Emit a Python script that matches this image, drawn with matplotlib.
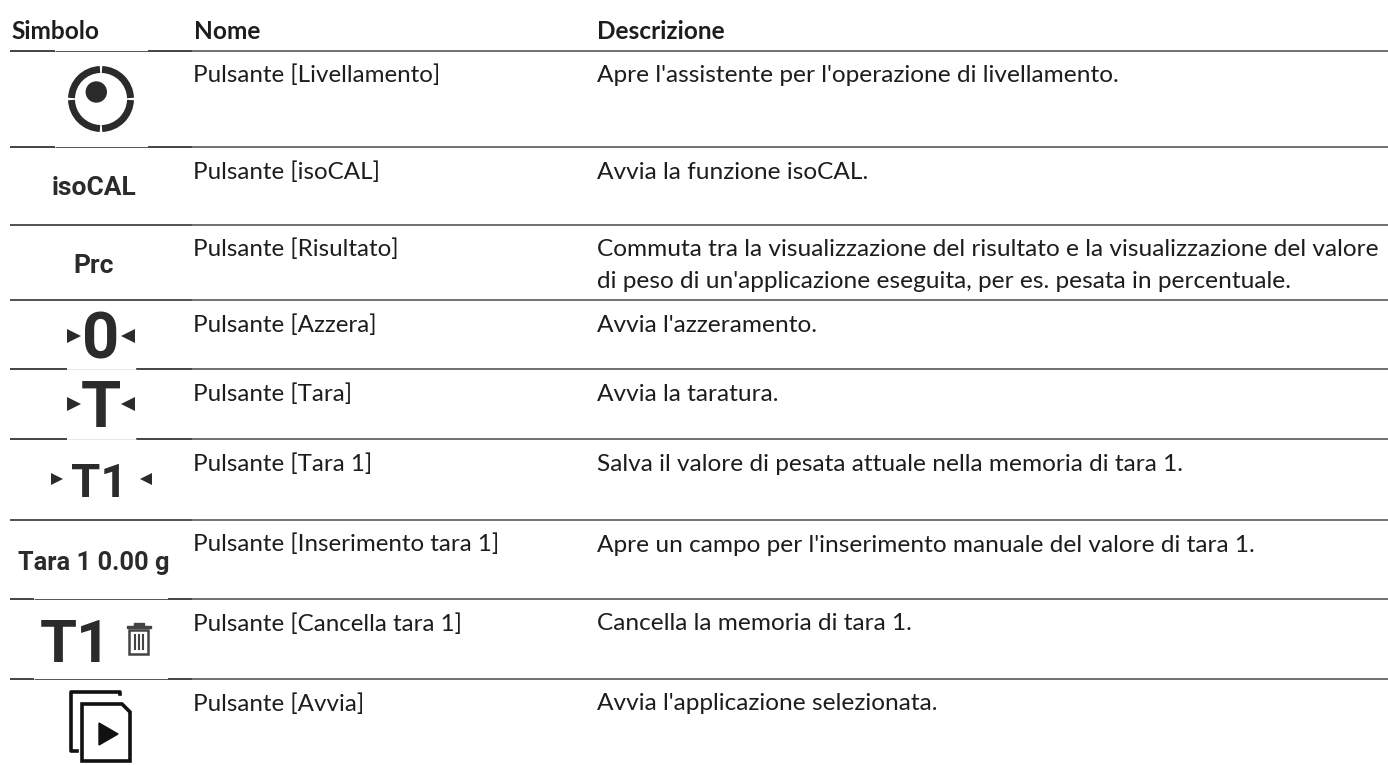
import matplotlib
matplotlib.use("Agg")
import matplotlib.pyplot as plt
from matplotlib.patches import Arc, Circle, Rectangle, Polygon

# table content
headers = ["Simbolo", "Nome", "Descrizione"]
names = ["Pulsante [Livellamento]", "Pulsante [isoCAL]", "Pulsante [Risultato]",
         "Pulsante [Azzera]", "Pulsante [Tara]", "Pulsante [Tara 1]",
         "Pulsante [Inserimento tara 1]", "Pulsante [Cancella tara 1]", "Pulsante [Avvia]"]
descriptions = ["Apre l'assistente per l'operazione di livellamento.",
                "Avvia la funzione isoCAL.",
                "Commuta tra la visualizzazione del risultato e la visualizzazione del valore\ndi peso di un'applicazione eseguita, per es. pesata in percentuale.",
                "Avvia l'azzeramento.",
                "Avvia la taratura.",
                "Salva il valore di pesata attuale nella memoria di tara 1.",
                "Apre un campo per l'inserimento manuale del valore di tara 1.",
                "Cancella la memoria di tara 1.",
                "Avvia l'applicazione selezionata."]
row_lines = [51, 147, 225, 300, 369, 439, 520, 599, 679]
line_gaps = [(55, 148), (55, 148), None, None, (67, 136), (67, 136), None, (34, 168), (34, 168)]

TEXT = "#1d1d1b"
ICON = "#2b2b2b"
FONT = "Lato"

fig = plt.figure(figsize=(13.88, 7.65), dpi=100)
ax = fig.add_axes([0, 0, 1, 1])
ax.set_xlim(0, 1388)
ax.set_ylim(765, 0)
ax.axis("off")

# header
ax.text(11, 38.5, headers[0], fontsize=17.6, fontweight="bold", family=FONT, color=TEXT)
ax.text(194, 38.5, headers[1], fontsize=17.6, fontweight="bold", family=FONT, color=TEXT)
ax.text(597, 38.5, headers[2], fontsize=17.6, fontweight="bold", family=FONT, color=TEXT)

# rules
for y, gap in zip(row_lines, line_gaps):
    ax.plot([192, 1388], [y, y], color="#4a4a4a", lw=1.1, solid_capstyle="butt")
    if gap is None:
        ax.plot([10, 192], [y, y], color="#222222", lw=1.1, solid_capstyle="butt")
    else:
        ax.plot([10, gap[0]], [y, y], color="#111111", lw=1.1, solid_capstyle="butt")
        ax.plot([gap[1], 192], [y, y], color="#111111", lw=1.1, solid_capstyle="butt")
        ax.plot([gap[0], gap[1]], [y, y], color="#555555" if gap[0] != 67 else "#e8e8e8",
                lw=0.7, solid_capstyle="butt")

# body text
baselines = [81.5, 178.5, 255.5, 331.5, 400.5, 470.5, 551.5, 630.5, 710.5]
for y, name, desc in zip(baselines, names, descriptions):
    ax.text(193, y, name, fontsize=17.4, family=FONT, color=TEXT)
    for i, part in enumerate(desc.split("\n")):
        ax.text(597, y + i * 32, part, fontsize=17.55, family=FONT, color=TEXT)

# level icon
for t1, t2 in [(-88, -2), (2, 88), (92, 178), (182, 268)]:
    ax.add_patch(Arc((101, 99), 59, 59, theta1=t1, theta2=t2, color=ICON, lw=5))
ax.add_patch(Circle((96.3, 92), 10, color=ICON))

# text buttons
ax.text(94, 195, "isoCAL", fontsize=19, fontweight="bold", family="Roboto", color=ICON, ha="center")
ax.text(94, 273, "Prc", fontsize=19, fontweight="bold", family="Roboto", color=ICON, ha="center")
ax.text(94, 570, "Tara 1 0.00 g", fontsize=18.3, fontweight="bold", family="Roboto", color=ICON, ha="center")

# zero / tare buttons
ax.text(101, 358, "0", fontsize=47, fontweight="bold", family="Roboto", color=ICON, ha="center")
ax.text(101, 427, "T", fontsize=47, fontweight="bold", family="Roboto", color=ICON, ha="center")
ax.text(99, 497, "T1", fontsize=34, fontweight="bold", family="Roboto", color=ICON, ha="center")
ax.text(76, 662, "T1", fontsize=43, fontweight="bold", family="Roboto", color=ICON, ha="center")
for y in [336, 404]:
    ax.plot(74, y, marker=">", ms=10, color=ICON, mew=0)
    ax.plot(128, y, marker="<", ms=10, color=ICON, mew=0)
ax.plot(57, 479, marker=">", ms=8, color=ICON, mew=0)
ax.plot(146, 479, marker="<", ms=8, color=ICON, mew=0)

# trash can
ax.add_patch(Rectangle((127, 625.5), 24, 2.5, color="#444444"))
ax.add_patch(Rectangle((134, 623), 10, 2.5, color="#444444"))
ax.add_patch(Rectangle((129.5, 630), 19, 24, fc="white", ec="#444444", lw=1.8))
for x in [135, 139, 143]:
    ax.plot([x, x], [635, 649], color="#444444", lw=1.5)

# start icon
ax.plot([120, 120, 71, 71, 77], [694, 692, 692, 751, 751], color="#111111", lw=2.6)
ax.add_patch(Polygon([(82, 704), (122, 704), (130, 712), (130, 761), (82, 761)],
                     closed=True, fc="white", ec="#111111", lw=2.6, zorder=3))
ax.add_patch(Polygon([(99, 723), (118, 734), (99, 745)], closed=True, color="#111111", zorder=4))

fig.savefig("out.png", dpi=100)
